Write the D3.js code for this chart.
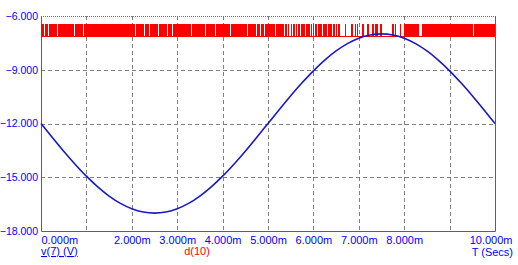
<!DOCTYPE html>
<html>
<head>
<meta charset="utf-8">
<script src="https://cdn.jsdelivr.net/npm/d3@7"></script>
<style>
body { margin: 0; background: #fff; }
text { font-family: "Liberation Sans", Arial, sans-serif; }
</style>
</head>
<body>
<div id="chart-area"></div>
<script>
// v(7) read every 0.25 ms
var timeMs = [0,0.25,0.5,0.75,1,1.25,1.5,1.75,2,2.25,2.5,2.75,3,3.25,3.5,3.75,4,4.25,4.5,4.75,
    5,5.25,5.5,5.75,6,6.25,6.5,6.75,7,7.25,7.5,7.75,8,8.25,8.5,8.75,9,9.25,9.5,9.75,10];
var vValues = [-12,-12.78,-13.55,-14.27,-14.94,-15.54,-16.05,-16.46,-16.76,-16.94,-17,-16.94,-16.76,-16.46,-16.05,
    -15.54,-14.94,-14.27,-13.55,-12.78,-12,-11.22,-10.45,-9.73,-9.06,-8.46,-7.95,-7.54,-7.24,-7.06,-7,
    -7.06,-7.24,-7.54,-7.95,-8.46,-9.06,-9.73,-10.45,-11.22,-12];

// d(10) digital levels [low, high] and sampled states, one string per ms
var dLevels = [-7.12, -6.5];
var dBits = [
    "1010100101010001010100101010001010100101010001010100101010001010100101010001010",
    "1010101001010100101010100101010010101010010101001010101001010100101010100101010",
    "1010100010101000101010001010100010101000101010001010100010101000101010001010100",
    "1010101001010100010101010010101000101010100101010001010101001010100010101010010",
    "1010100101010001010100101010001010100101010001010100101010001010100101010001010",
    "10101001010100010101001010100010100010000100010000100010000100010000100010001000",
    "10001000010001000010001000010001000010001000010000000000100000000000100000100100",
    "00000001000000001000000001000100100000010000000000000000000010001000000001000000",
    "101010010100101010010100100000001010100101001010100101001010100101010010100101",
    "10101001010010101001010010101001010100101001010100101010010100101010010100101010"
];

var yTicks = [-6, -9, -12, -15, -18];
var xGrid = [0,1,2,3,4,5,6,7,8,9,10];
var xLabels = [0,2,3,4,5,6,7,8,10];

var margin = { left:41, right:23, top:16, bottom:34 };
var width = 518 - margin.left - margin.right,
    height = 265 - margin.top - margin.bottom;

var svg = d3.select("#chart-area")
    .append("svg")
    .attr("width", 518)
    .attr("height", 265);

var g = svg.append("g")
    .attr("transform", "translate(" + margin.left + "," + margin.top + ")");

var x = d3.scaleLinear().domain([0, 10]).range([0, width]);
var y = d3.scaleLinear().domain([-18, -6]).range([height, 0]);

// grid
g.selectAll(".vgrid")
    .data(xGrid.slice(1, -1))
    .enter().append("line")
        .attr("x1", function(d){ return Math.round(x(d)) + 0.5; })
        .attr("x2", function(d){ return Math.round(x(d)) + 0.5; })
        .attr("y1", 0).attr("y2", height)
        .attr("stroke", "#808080")
        .attr("stroke-dasharray", "4,3");

g.selectAll(".hgrid")
    .data(yTicks.slice(1, -1))
    .enter().append("line")
        .attr("y1", function(d){ return Math.round(y(d)) + 0.5; })
        .attr("y2", function(d){ return Math.round(y(d)) + 0.5; })
        .attr("x1", 0).attr("x2", width)
        .attr("stroke", "#808080")
        .attr("stroke-dasharray", "4,3");

// frame
g.append("line").attr("x1", 0).attr("x2", width).attr("y1", 0.5).attr("y2", 0.5)
    .attr("stroke", "#707070").attr("stroke-dasharray", "1,1");
g.append("path")
    .attr("d", "M0.5,0V" + (height + 0.5) + "H" + (width + 0.5) + "V0")
    .attr("fill", "none")
    .attr("stroke", "#606060");

// axes
var yAxis = g.append("g")
    .call(d3.axisLeft(y).tickValues(yTicks).tickSize(0).tickPadding(3)
        .tickFormat(d3.format(".3f")));
yAxis.select(".domain").remove();
yAxis.selectAll("text")
    .attr("fill", "#0000ff")
    .attr("font-size", "10.5px")
    .style("font-family", "'Liberation Sans', Arial, sans-serif");

var xAxis = g.append("g")
    .attr("transform", "translate(0," + height + ")")
    .call(d3.axisBottom(x).tickValues(xLabels).tickSize(0).tickPadding(5)
        .tickFormat(function(d){ return d3.format(".3f")(d) + "m"; }));
xAxis.select(".domain").remove();
xAxis.selectAll("text")
    .attr("fill", "#0000ff")
    .attr("font-size", "11px")
    .style("font-family", "'Liberation Sans', Arial, sans-serif")
    .attr("text-anchor", function(d){ return d === 0 ? "start" : (d === 10 ? "end" : "middle"); })
    .attr("x", function(d){ return d === 10 ? 17 : 0; });

// d(10) trace: each ms string is spread over its own 1 ms
var dPoints = [];
dBits.forEach(function(s, ms) {
    var step = 1 / s.length;
    for (var i = 0; i < s.length; i++) {
        dPoints.push([ms + i * step, dLevels[+s[i]]]);
    }
});
dPoints.push([10, dPoints[dPoints.length - 1][1]]);

var dLine = d3.line()
    .x(function(d){ return x(d[0]); })
    .y(function(d){ return y(d[1]); })
    .curve(d3.curveStepAfter);

g.append("path")
    .datum(dPoints)
    .attr("d", dLine)
    .attr("fill", "none")
    .attr("stroke", "#ff0000")
    .attr("stroke-width", 1)
    .attr("shape-rendering", "crispEdges");

// v(7) trace
var vLine = d3.line()
    .x(function(d, i){ return x(timeMs[i]); })
    .y(function(d){ return y(d); })
    .curve(d3.curveCatmullRom);

g.append("path")
    .datum(vValues)
    .attr("d", vLine)
    .attr("fill", "none")
    .attr("stroke", "#1818c8")
    .attr("stroke-width", 1.6);

// legend / labels
svg.append("text")
    .attr("x", 41).attr("y", 255)
    .attr("font-size", "11px")
    .attr("fill", "#0000ff")
    .attr("text-decoration", "underline")
    .text("v(7) (V)");

svg.append("text")
    .attr("x", 197).attr("y", 255)
    .attr("font-size", "11px")
    .attr("fill", "#ff0000")
    .attr("text-anchor", "middle")
    .text("d(10)");

svg.append("text")
    .attr("x", 513).attr("y", 256)
    .attr("font-size", "11px")
    .attr("fill", "#0000ff")
    .attr("text-anchor", "end")
    .text("T (Secs)");
</script>
</body>
</html>
